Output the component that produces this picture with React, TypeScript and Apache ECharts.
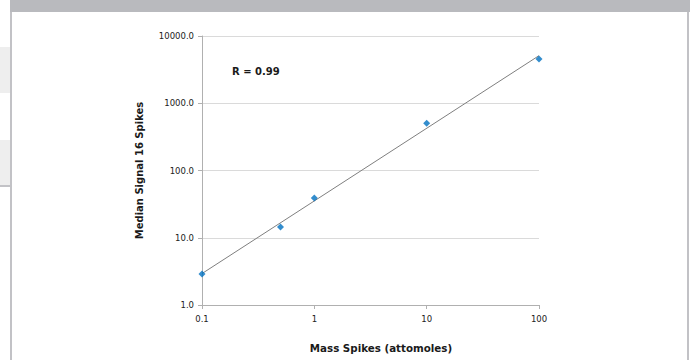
import React, { useEffect, useRef } from "react";
import * as echarts from "echarts";

const massSpikes = [0.1, 0.5, 1, 10, 100];
const medianSignal = [2.9, 14.4, 39, 505, 4550];
const yTicks = [1, 10, 100, 1000, 10000];
const xTicks = [0.1, 1, 10, 100];
const rLabel = "R = 0.99";
const xTitle = "Mass Spikes (attomoles)";
const yTitle = "Median Signal 16 Spikes";

function powerFit(xs: number[], ys: number[]) {
  const lx = xs.map((v) => Math.log10(v));
  const ly = ys.map((v) => Math.log10(v));
  const n = lx.length;
  const mx = lx.reduce((a, b) => a + b, 0) / n;
  const my = ly.reduce((a, b) => a + b, 0) / n;
  let sxx = 0, sxy = 0;
  for (let i = 0; i < n; i++) {
    sxx += (lx[i] - mx) ** 2;
    sxy += (lx[i] - mx) * (ly[i] - my);
  }
  const b = sxy / sxx;
  const a = my - b * mx;
  return (x: number) => Math.pow(10, a + b * Math.log10(x));
}

export default function App() {
  const ref = useRef<HTMLDivElement>(null);
  useEffect(() => {
    if (!ref.current) return;
    const chart = echarts.init(ref.current, undefined, { renderer: "svg" });
    const fit = powerFit(massSpikes, medianSignal);
    const xmin = xTicks[0];
    const xmax = xTicks[xTicks.length - 1];
    const font = "'DejaVu Sans', Verdana, sans-serif";
    chart.setOption({
      animation: false,
      backgroundColor: "#ffffff",
      textStyle: { fontFamily: font },
      grid: { left: 202, right: 151, top: 36, bottom: 55, containLabel: false },
      xAxis: {
        type: "log",
        logBase: 10,
        min: xmin,
        max: xmax,
        axisLine: { show: true, lineStyle: { color: "#b0b0b0", width: 1 } },
        axisTick: { show: true, length: 4, lineStyle: { color: "#b0b0b0" } },
        minorTick: { show: false },
        splitLine: { show: false },
        axisLabel: {
          fontSize: 8.5,
          color: "#222222",
          margin: 9,
          fontFamily: font,
          formatter: (v: number) => String(Number(v.toPrecision(3))),
        },
      },
      yAxis: {
        type: "log",
        logBase: 10,
        min: yTicks[0],
        max: yTicks[yTicks.length - 1],
        name: yTitle,
        nameLocation: "middle",
        nameGap: 58,
        nameTextStyle: { fontSize: 10, fontWeight: "bold", color: "#1a1a1a", fontFamily: font },
        axisLine: { show: true, lineStyle: { color: "#b0b0b0", width: 1 } },
        axisTick: { show: true, length: 4, lineStyle: { color: "#b0b0b0" } },
        splitLine: { show: true, lineStyle: { color: "#dadada", width: 1 } },
        axisLabel: {
          fontSize: 8.5,
          color: "#222222",
          margin: 8,
          fontFamily: font,
          formatter: (v: number) => v.toFixed(1),
        },
      },
      graphic: [
        { type: "rect", shape: { x: 10, y: 0, width: 680, height: 12 }, style: { fill: "#b9babe" }, z: 100 },
        { type: "rect", shape: { x: 10, y: 12, width: 2, height: 348 }, style: { fill: "#c2c2c6" }, z: 100 },
        { type: "rect", shape: { x: 687, y: 12, width: 2, height: 348 }, style: { fill: "#c2c2c6" }, z: 100 },
        { type: "rect", shape: { x: 0, y: 47, width: 10, height: 46 }, style: { fill: "#eeeeee" }, z: 100 },
        { type: "rect", shape: { x: 0, y: 140, width: 10, height: 45 }, style: { fill: "#eeeeee" }, z: 100 },
        { type: "rect", shape: { x: 0, y: 185, width: 10, height: 2 }, style: { fill: "#c2c2c6" }, z: 100 },
        {
          type: "text",
          left: 232,
          top: 66,
          style: { text: rLabel, font: `bold 10px ${font}`, fill: "#1a1a1a" },
        },
        {
          type: "text",
          x: 381,
          y: 348,
          style: { text: xTitle, font: `bold 10.3px ${font}`, fill: "#1a1a1a", align: "center", verticalAlign: "middle" },
        },
      ],
      series: [
        {
          type: "line",
          data: [[xmin, fit(xmin)], [xmax, fit(xmax)]],
          showSymbol: false,
          symbol: "none",
          lineStyle: { color: "#7f7f7f", width: 1 },
          z: 2,
        },
        {
          type: "scatter",
          data: massSpikes.map((x, i) => [x, medianSignal[i]]),
          symbol: "diamond",
          symbolSize: 7,
          itemStyle: { color: "#0070c0" },
          z: 3,
        },
      ],
    });
    return () => chart.dispose();
  }, []);
  return (
    <div
      ref={ref}
      style={{ position: "fixed", left: 0, top: 0, width: 690, height: 360 }}
    />
  );
}
